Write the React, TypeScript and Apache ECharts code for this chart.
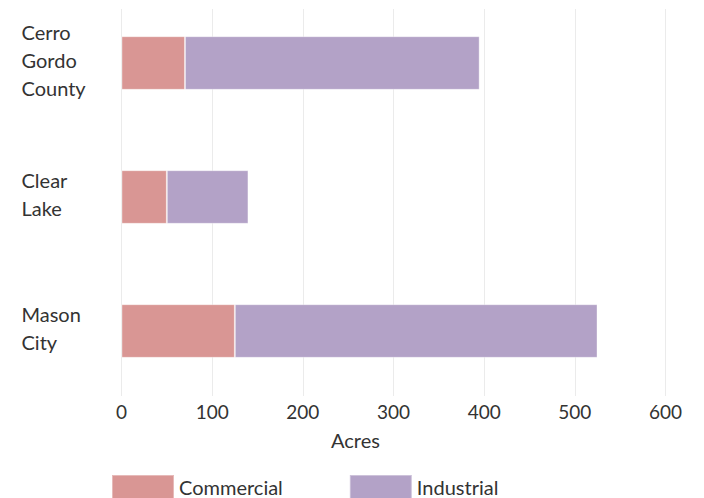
import React, { useEffect, useRef } from "react";
import * as echarts from "echarts";

const categories = ["Cerro\nGordo\nCounty", "Clear\nLake", "Mason\nCity"];
const commercial = [70, 50, 125];
const industrial = [325, 90, 400];
const seriesNames = ["Commercial", "Industrial"];
const colors = ["#D99694", "#B3A2C7"];

export default function App() {
  const ref = useRef<HTMLDivElement>(null);
  useEffect(() => {
    document.body.style.margin = "0";
    const chart = echarts.init(ref.current!, null, { renderer: "svg" });
    const font = "Lato";
    chart.setOption({
      animation: false,
      textStyle: { fontFamily: font },
      color: colors,
      grid: [
        { left: 121.5, right: 38.5, top: -4, height: 402, outerBoundsMode: "none", containLabel: false },
        { left: 121.5, right: 38.5, top: 9, bottom: 102, outerBoundsMode: "none", containLabel: false },
      ],
      legend: {
        left: 111,
        top: 474,
        padding: 0,
        icon: "rect",
        itemWidth: 62,
        itemHeight: 24,
        itemGap: 66,
        textStyle: { fontSize: 20, lineHeight: 16, color: "#333", fontFamily: font },
        data: seriesNames,
      },
      xAxis: [
        { gridIndex: 0, type: "value", min: 0, max: 600, show: false },
        {
          gridIndex: 1,
          type: "value",
          min: 0,
          max: 600,
          interval: 100,
          axisLine: { show: false },
          axisTick: { show: false },
          splitLine: { show: true, lineStyle: { color: "#ebebeb", width: 1 } },
          axisLabel: { fontSize: 19, color: "#333", margin: 6, fontFamily: font },
          name: "Acres",
          nameLocation: "middle",
          nameGap: 34,
          nameTextStyle: { fontSize: 20, color: "#333", padding: [0, 76, 0, 0], fontFamily: font },
        },
      ],
      yAxis: [
        {
          gridIndex: 0,
          type: "category",
          inverse: true,
          data: categories,
          axisLine: { show: false },
          axisTick: { show: false },
          splitLine: { show: false },
          axisLabel: {
            align: "left",
            margin: 100,
            color: "#333",
            fontFamily: font,
            formatter: (v: string) =>
              v
                .split("\n")
                .map((s) => `{a|${s}}`)
                .join("\n") + "\n{pad|}",
            rich: {
              a: { fontSize: 20, lineHeight: 28, color: "#333", fontFamily: font },
              pad: { fontSize: 1, lineHeight: 7 },
            },
          },
        },
        { gridIndex: 1, type: "value", show: false, min: 0, max: 1 },
      ],
      series: [
        {
          name: seriesNames[0],
          type: "bar",
          stack: "total",
          xAxisIndex: 0,
          yAxisIndex: 0,
          barWidth: "40%",
          data: commercial,
          itemStyle: { color: colors[0], borderColor: "rgba(255,255,255,0.35)", borderWidth: 1 },
        },
        {
          name: seriesNames[1],
          type: "bar",
          stack: "total",
          xAxisIndex: 0,
          yAxisIndex: 0,
          barWidth: "40%",
          data: industrial,
          itemStyle: { color: colors[1], borderColor: "rgba(255,255,255,0.35)", borderWidth: 1 },
        },
      ],
    });
    return () => chart.dispose();
  }, []);
  return <div ref={ref} style={{ width: 704, height: 498 }} />;
}
